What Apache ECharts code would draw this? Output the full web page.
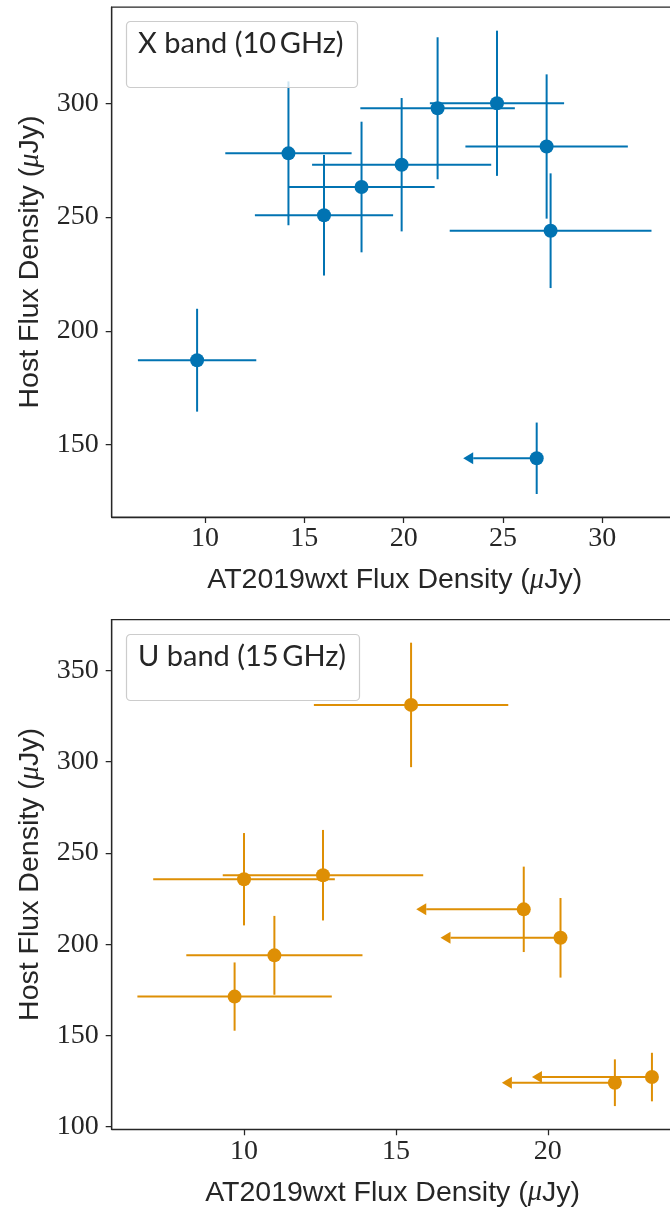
<!DOCTYPE html>
<html>
<head>
<meta charset="utf-8">
<script src="https://cdn.jsdelivr.net/npm/echarts@6.0.0/dist/echarts.min.js"></script>
<style>
html,body{margin:0;padding:0;background:#fff;}
#chart{width:670px;height:1214px;}
</style>
</head>
<body>
<div id="chart"></div>
<script>
// ---- X band (10 GHz) ----
const xX    = [9.60, 14.20, 15.99, 17.88, 19.90, 21.71, 24.70, 27.20, 27.40, 26.70];
const yX    = [187.1, 278.0, 250.8, 263.2, 273.0, 297.8, 300.0, 281.0, 244.0, 144.0];
const xerrX = [2.98, 3.18, 3.48, 3.68, 4.51, 3.89, 3.38, 4.09, 5.08, 3.70];
const yerrX = [22.6, 31.6, 26.5, 28.7, 29.3, 31.2, 31.9, 31.7, 25.2, 15.7];
const limX  = [0, 0, 0, 0, 0, 0, 0, 0, 0, 1];   // 1 = upper limit on x (arrow)

// ---- U band (15 GHz) ----
const xU    = [15.50, 10.00, 12.60, 11.00, 9.69, 19.21, 20.42, 22.21, 23.43];
const yU    = [331.1, 235.6, 237.8, 193.9, 171.3, 219.1, 203.5, 124.1, 127.2];
const xerrU = [3.20, 2.99, 3.30, 2.90, 3.20, 3.54, 3.95, 3.72, 3.95];
const yerrU = [34.1, 25.3, 24.8, 21.6, 18.7, 23.4, 21.8, 12.8, 13.3];
const limU  = [0, 0, 0, 0, 0, 1, 1, 1, 1];

// tick labels
const xTicksTop = [10, 15, 20, 25, 30];
const yTicksTop = [150, 200, 250, 300];
const xTicksBot = [10, 15, 20];
const yTicksBot = [100, 150, 200, 250, 300, 350];

const legendTop = 'X band (10\u2009GHz)';
const legendBot = 'U band (15\u2009GHz)';
const xTitle = 'AT2019wxt Flux Density ({i|μ}Jy)';
const yTitle = 'Host Flux Density ({i|μ}Jy)';

const BLUE = '#0173B2', ORANGE = '#DE8F05', INK = '#262626';

function rows(x, y, xe, ye, lim) {
  return x.map((v, i) => [v, y[i], xe[i], ye[i], lim[i]]);
}

function errRenderer(params, api) {
  const x = api.value(0), y = api.value(1), xe = api.value(2), ye = api.value(3), lim = api.value(4);
  const c = api.coord([x, y]);
  const color = api.visual('color');
  const st = {stroke: color, lineWidth: 2, fill: null};
  const ch = [];
  const t = api.coord([x, y + ye]), b = api.coord([x, y - ye]);
  ch.push({type: 'line', shape: {x1: c[0], y1: t[1], x2: c[0], y2: b[1]}, style: st});
  if (lim) {
    const tip = api.coord([x - xe, y]);
    const aw = 10, ah = 6;
    ch.push({type: 'line', shape: {x1: c[0], y1: c[1], x2: tip[0] + aw, y2: c[1]}, style: st});
    ch.push({type: 'polygon', shape: {points: [[tip[0], c[1]], [tip[0] + aw, c[1] - ah], [tip[0] + aw, c[1] + ah]]},
             style: {fill: color, stroke: null}});
  } else {
    const l = api.coord([x - xe, y]), r = api.coord([x + xe, y]);
    ch.push({type: 'line', shape: {x1: l[0], y1: c[1], x2: r[0], y2: c[1]}, style: st});
  }
  return {type: 'group', children: ch};
}

const nameStyle = {
  fontFamily: 'Liberation Sans', fontSize: 28.5, color: INK,
  rich: {i: {fontFamily: 'Liberation Serif', fontStyle: 'italic', fontSize: 28.5, color: INK}}
};
const labelStyle = {fontFamily: 'Liberation Serif', fontSize: 28, color: INK};

function xAxisDef(gi, min, max, ticks) {
  return {
    type: 'value', gridIndex: gi, min: min, max: max,
    splitLine: {show: false},
    axisLine: {show: true, onZero: false, lineStyle: {color: INK, width: 1.25}},
    axisTick: {show: true, inside: false, length: 6, customValues: ticks, lineStyle: {color: INK, width: 1.25}},
    axisLabel: {show: true, customValues: ticks, margin: 8, ...labelStyle},
    name: xTitle, nameLocation: 'middle', nameGap: 49, nameTextStyle: nameStyle
  };
}
function yAxisDef(gi, min, max, ticks) {
  return {
    type: 'value', gridIndex: gi, min: min, max: max,
    splitLine: {show: false},
    axisLine: {show: true, onZero: false, lineStyle: {color: INK, width: 1.25}},
    axisTick: {show: true, inside: false, length: 6, customValues: ticks, lineStyle: {color: INK, width: 1.25}},
    axisLabel: {show: true, customValues: ticks, margin: 13, ...labelStyle},
    name: yTitle, nameLocation: 'middle', nameGap: 67, nameRotate: 90, nameTextStyle: nameStyle
  };
}

function legendBox(top, text) {
  return {
    text: text, left: 126, top: top,
    padding: [8, 14, 29, 12],
    borderColor: '#cccccc', borderWidth: 1.2, borderRadius: 4, backgroundColor: 'rgba(255,255,255,0.8)',
    textStyle: {fontFamily: 'Lato', fontSize: 29, fontWeight: 'normal', color: INK, lineHeight: 30}
  };
}

const chart = echarts.init(document.getElementById('chart'), null, {renderer: 'canvas'});
chart.setOption({
  animation: false,
  backgroundColor: '#ffffff',
  title: [legendBox(21, legendTop), legendBox(634, legendBot)],
  grid: [
    {left: 111.7, top: 7, width: 566, height: 510, show: true, borderColor: INK, borderWidth: 1.25,
     backgroundColor: 'transparent', outerBoundsMode: 'none', containLabel: false},
    {left: 111.7, top: 619.5, width: 561.8, height: 509.8, show: true, borderColor: INK, borderWidth: 1.25,
     backgroundColor: 'transparent', outerBoundsMode: 'none', containLabel: false}
  ],
  xAxis: [xAxisDef(0, 5.3, 33.8, xTicksTop), xAxisDef(1, 5.644, 24.14, xTicksBot)],
  yAxis: [yAxisDef(0, 118.2, 342.3, yTicksTop), yAxisDef(1, 98.58, 377.9, yTicksBot)],
  series: [
    {type: 'custom', xAxisIndex: 0, yAxisIndex: 0, renderItem: errRenderer, itemStyle: {color: BLUE},
     encode: {x: 0, y: 1}, data: rows(xX, yX, xerrX, yerrX, limX), z: 2},
    {type: 'scatter', xAxisIndex: 0, yAxisIndex: 0, symbol: 'circle', symbolSize: 14,
     itemStyle: {color: BLUE, opacity: 1}, data: xX.map((v, i) => [v, yX[i]]), z: 3},
    {type: 'custom', xAxisIndex: 1, yAxisIndex: 1, renderItem: errRenderer, itemStyle: {color: ORANGE},
     encode: {x: 0, y: 1}, data: rows(xU, yU, xerrU, yerrU, limU), z: 2},
    {type: 'scatter', xAxisIndex: 1, yAxisIndex: 1, symbol: 'circle', symbolSize: 14,
     itemStyle: {color: ORANGE, opacity: 1}, data: xU.map((v, i) => [v, yU[i]]), z: 3}
  ]
});
</script>
</body>
</html>
